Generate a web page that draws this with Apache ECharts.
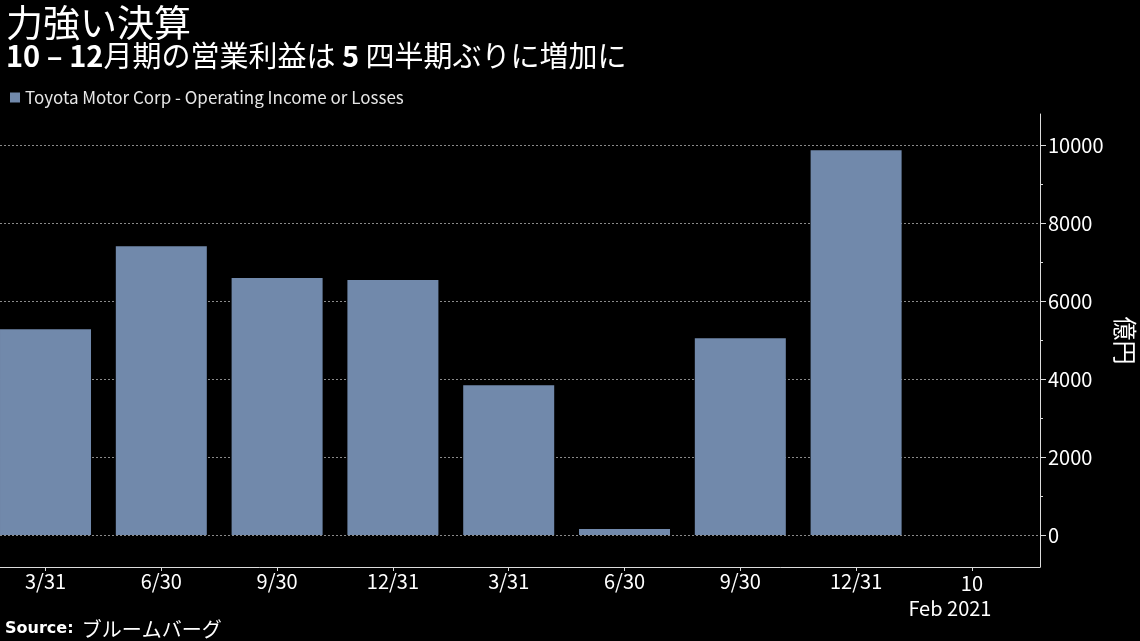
<!DOCTYPE html>
<html>
<head>
<meta charset="utf-8">
<script src="https://cdn.jsdelivr.net/npm/echarts@6/dist/echarts.min.js"></script>
<style>
html,body{margin:0;padding:0;background:#000;}
#c{width:1140px;height:641px;}
</style>
</head>
<body>
<div id="c"></div>
<script>
// Data
const categories = ['3/31', '6/30', '9/30', '12/31', '3/31', '6/30', '9/30', '12/31', '10'];
const operatingIncome = [5280, 7410, 6590, 6540, 3845, 155, 5050, 9870];
const yTicks = [0, 2000, 4000, 6000, 8000, 10000];
const yMinorTicks = [1000, 3000, 5000, 7000, 9000];
const seriesName = 'Toyota Motor Corp - Operating Income or Losses';

const FONT = '"Noto Sans CJK JP", "Noto Sans", sans-serif';
const BAR = '#7189ab';
const AXIS = '#dcdcdc';
const chart = echarts.init(document.getElementById('c'), null, {renderer: 'canvas'});

const catIdx = categories.map(function (c, i) { return i; });
const barData = operatingIncome.map(function (v, i) { return [i, v]; });

const gridBase = {left: 0, right: 100, outerBoundsMode: 'none', containLabel: false};

const option = {
  backgroundColor: '#000',
  animation: false,
  textStyle: {fontFamily: FONT, color: '#fff'},
  title: [{
    text: '力強い決算',
    left: 1, top: -1,
    textStyle: {fontFamily: FONT, fontSize: 37, fontWeight: 'normal', color: '#fff'},
    subtext: '{b|10 – 12}{n|月期の営業利益は }{b|5}{n| 四半期ぶりに増加に}',
    itemGap: 0,
    subtextStyle: {
      rich: {
        b: {fontFamily: FONT, fontSize: 29, fontWeight: 'bold', color: '#fff'},
        n: {fontFamily: FONT, fontSize: 29, fontWeight: 'normal', color: '#fff'}
      }
    }
  }, {
    text: '{b|Source:}  {n|ブルームバーグ}',
    left: 5, top: 619,
    padding: 0,
    textStyle: {
      rich: {
        b: {fontFamily: '"DejaVu Sans", sans-serif', fontSize: 16, fontWeight: 'bold', color: '#fff'},
        n: {fontFamily: FONT, fontSize: 20, fontWeight: 'normal', color: '#fff'}
      }
    }
  }],
  legend: {
    left: 10, top: 89, padding: 0,
    icon: 'rect', itemWidth: 10, itemHeight: 10,
    textStyle: {fontFamily: FONT, fontSize: 17, color: '#e6e6e6'},
    data: [seriesName]
  },
  grid: [
    // bars + frame (x=0..1040, y -820 at 567, 10800 at 114)
    Object.assign({top: 114, bottom: 74}, gridBase),
    // major y ticks / labels / split lines (0 at 535, 10000 at 145)
    Object.assign({top: 145, bottom: 106}, gridBase),
    // minor y ticks
    Object.assign({top: 145, bottom: 106}, gridBase)
  ],
  xAxis: [{
    gridIndex: 0,
    type: 'value',
    min: -0.393, max: 8.588,
    axisLine: {show: true, onZero: false, lineStyle: {color: AXIS, width: 1}},
    axisTick: {show: true, customValues: catIdx, length: 4, lineStyle: {color: AXIS}},
    axisLabel: {
      show: true, customValues: catIdx,
      color: '#fff', fontFamily: FONT, fontSize: 20, margin: 4,
      formatter: function (v) {
        const i = Math.round(v);
        return i === categories.length - 1 ? '{a|' + categories[i] + '}\n{y|Feb 2021}' : categories[i];
      },
      rich: {
        a: {fontFamily: FONT, fontSize: 20, color: '#fff', lineHeight: 24},
        y: {fontFamily: FONT, fontSize: 20, color: '#fff', lineHeight: 26, padding: [0, 44, 0, 0]}
      }
    },
    splitLine: {show: false}
  }, {
    gridIndex: 1, type: 'value', min: 0, max: 1, show: false
  }, {
    gridIndex: 2, type: 'value', min: 0, max: 1, show: false
  }],
  yAxis: [{
    gridIndex: 0, type: 'value', position: 'right', min: -820, max: 10800,
    name: '億円', nameLocation: 'middle', nameGap: 73, nameRotate: -90,
    nameTextStyle: {fontFamily: FONT, fontSize: 24, color: '#fff'},
    axisLine: {show: true, onZero: false, lineStyle: {color: AXIS, width: 1}},
    axisTick: {show: false}, axisLabel: {show: false}, splitLine: {show: false}
  }, {
    gridIndex: 1, type: 'value', position: 'right',
    min: 0, max: 10000, interval: 2000,
    axisLine: {show: false, onZero: false},
    axisTick: {show: true, inside: false, length: 6, lineStyle: {color: AXIS}},
    axisLabel: {
      color: '#fff', fontFamily: FONT, fontSize: 20, margin: 8,
      formatter: function (v) { return yTicks.indexOf(v) >= 0 ? String(v) : ''; }
    },
    splitLine: {show: true, lineStyle: {color: '#8a8a8a', type: [2, 2], width: 1}}
  }, {
    gridIndex: 2, type: 'value', position: 'right',
    min: 0, max: 10000,
    axisLine: {show: false, onZero: false},
    axisTick: {show: true, customValues: yMinorTicks, inside: false, length: 3, lineStyle: {color: AXIS}},
    axisLabel: {show: false},
    splitLine: {show: false}
  }],
  series: [{
    name: seriesName,
    type: 'bar',
    xAxisIndex: 0, yAxisIndex: 0,
    data: barData,
    barWidth: 91,
    itemStyle: {color: BAR},
    z: 3
  }]
};
chart.setOption(option);
</script>
</body>
</html>
